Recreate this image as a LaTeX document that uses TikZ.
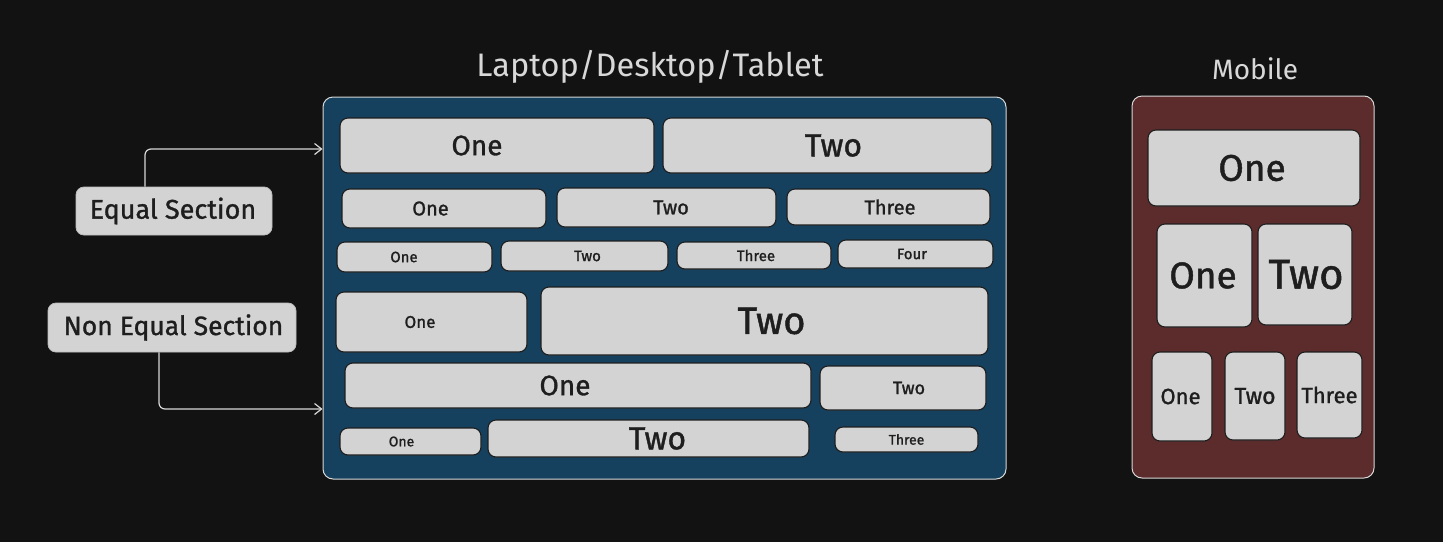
\documentclass[tikz,border=0pt]{standalone}
\usepackage{fontspec}
\setmainfont{Fira Sans}
\newfontfamily\cellfont{Fira Sans}[FakeBold=1.2]
\usetikzlibrary{arrows.meta}
\definecolor{bgc}{HTML}{121212}
\definecolor{bluec}{HTML}{15415F}
\definecolor{redc}{HTML}{5C2C2D}
\definecolor{boxc}{HTML}{D3D3D3}
\definecolor{inkc}{HTML}{1E1E1E}
\definecolor{lightc}{HTML}{D8D8D8}
\newcommand{\fs}[1]{\cellfont\fontsize{#1}{#1}\selectfont}
\newcommand{\tfs}[1]{\fontsize{#1}{#1}\selectfont}
\tikzset{
  cont/.style={draw=lightc, line width=1pt, rounded corners=10pt, inner sep=0pt},
  cell/.style={draw=inkc, fill=boxc, line width=1.1pt, rounded corners=8pt, inner sep=0pt, text=inkc},
  lab/.style={draw=lightc!70!gray, fill=boxc, line width=0.8pt, rounded corners=8pt, inner sep=0pt, text=inkc},
  ttl/.style={text=lightc, inner sep=0pt},
  tx/.style={execute at begin node={\hspace*{#1pt}}, execute at end node={\hspace*{-#1pt}}},
  arr/.style={draw=lightc, line width=1.2pt, rounded corners=6pt, -{Straight Barb[length=7pt,width=11pt]}},
}
\begin{document}
\begin{tikzpicture}[x=1pt,y=-1pt]
\fill[bgc] (0,0) rectangle (1443,542);
\useasboundingbox (0,0) rectangle (1443,542);
% containers
\node[cont, fill=bluec, minimum width=683pt, minimum height=382pt] (blue) at (664.5,288) {};
\node[cont, fill=redc, minimum width=242pt, minimum height=382pt] (mob) at (1253,287) {};
\node[ttl, font=\tfs{32.5}] (t1) at (650,67) {Laptop/Desktop/Tablet};
\node[ttl, font=\tfs{28}] (t2) at (1255,69) {Mobile};
% row 1
\node[cell, tx=-20, minimum width=314pt, minimum height=55pt, font=\fs{28}] (r1a) at (497,145.5) {One};
\node[cell, tx=6, minimum width=329pt, minimum height=55pt, font=\fs{32}] (r1b) at (827.5,145.5) {Two};
% row 2
\node[cell, tx=-13.5, minimum width=204pt, minimum height=39pt, font=\fs{20}] (r2a) at (444,208.5) {One};
\node[cell, tx=4.5, minimum width=219pt, minimum height=39pt, font=\fs{20}] (r2b) at (666.5,207.5) {Two};
\node[cell, tx=1.5, minimum width=203pt, minimum height=36pt, font=\fs{20}] (r2c) at (888.5,207) {Three};
% row 3
\node[cell, tx=-10.5, minimum width=155pt, minimum height=30pt, font=\fs{15}] (r3a) at (414.5,257) {One};
\node[cell, tx=3, minimum width=167pt, minimum height=30pt, font=\fs{15}] (r3b) at (584.5,256) {Two};
\node[cell, tx=2, minimum width=154pt, minimum height=27pt, font=\fs{15}] (r3c) at (754,255.5) {Three};
\node[cell, tx=-3.5, minimum width=155pt, minimum height=28pt, font=\fs{15}] (r3d) at (915.5,254) {Four};
% row 4
\node[cell, tx=-11.5, minimum width=191pt, minimum height=60pt, font=\fs{17}] (r4a) at (431.5,322) {One};
\node[cell, tx=7, minimum width=447pt, minimum height=68pt, font=\fs{38}] (r4b) at (764.5,321) {Two};
% row 5
\node[cell, tx=-13, minimum width=466pt, minimum height=45pt, font=\fs{28}] (r5a) at (578,385.5) {One};
\node[cell, tx=6, minimum width=166pt, minimum height=44pt, font=\fs{18}] (r5b) at (903,388) {Two};
% row 6
\node[cell, tx=-9, minimum width=141pt, minimum height=27pt, font=\fs{14}] (r6a) at (410.5,441.5) {One};
\node[cell, tx=9, minimum width=321pt, minimum height=37pt, font=\fs{32}] (r6b) at (648.5,438.5) {Two};
\node[cell, minimum width=143pt, minimum height=25pt, font=\fs{14}] (r6c) at (906.5,439.5) {Three};
% mobile
\node[cell, tx=-2, minimum width=212pt, minimum height=76pt, font=\fs{37}] (m1) at (1254,168) {One};
\node[cell, tx=-1.5, minimum width=95pt, minimum height=103pt, font=\fs{37}] (m2a) at (1204.5,275.5) {One};
\node[cell, tx=1, minimum width=94pt, minimum height=101pt, font=\fs{42}] (m2b) at (1305,274.5) {Two};
\node[cell, tx=-1.5, minimum width=60pt, minimum height=89pt, font=\fs{22}] (m3a) at (1182,396.5) {One};
\node[cell, minimum width=60pt, minimum height=88pt, font=\fs{23}] (m3b) at (1255,396) {Two};
\node[cell, minimum width=65pt, minimum height=86pt, font=\fs{22}] (m3c) at (1329.5,395) {Three};
% labels
\node[lab, tx=-1, minimum width=196pt, minimum height=48pt, font=\fs{27}] (eq) at (174,211) {Equal Section};
\node[lab, tx=1.5, minimum width=248pt, minimum height=49pt, font=\fs{26.5}] (neq) at (172,327.5) {Non Equal Section};
% arrows
\coordinate (a1) at (145,149);
\coordinate (a2) at (159,409);
\draw[arr] (eq.north -| a1) |- (blue.west |- a1);
\draw[arr] (neq.south -| a2) |- (blue.west |- a2);
\end{tikzpicture}
\end{document}
